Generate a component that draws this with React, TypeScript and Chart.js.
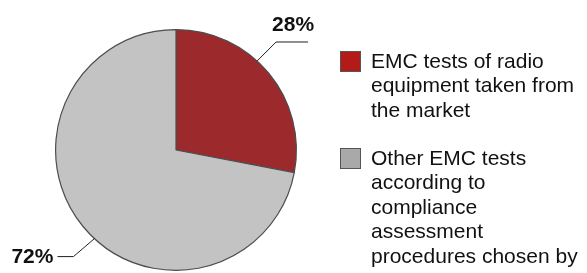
import React, { useEffect, useRef } from "react";
import { Chart, registerables } from "chart.js";

Chart.register(...registerables);

const categories = [
  "EMC tests of radio equipment taken from the market",
  "Other EMC tests according to compliance assessment procedures chosen by",
];
const legendLines = [
  ["EMC tests of radio", "equipment taken from", "the market"],
  ["Other EMC tests", "according to", "compliance", "assessment", "procedures chosen by"],
];
const values = [28, 72];
const sliceColors = ["#9c2a2c", "#c3c3c3"];
const legendColors = ["#b31b18", "#a9a9a9"];

const labelPlugin = {
  id: "leaderLabels",
  afterDatasetsDraw(chart: any) {
    const ctx = chart.ctx;
    const meta = chart.getDatasetMeta(0);
    const total = values.reduce((a, b) => a + b, 0);
    const fracs = [0.42, 0.47];
    meta.data.forEach((arc: any, i: number) => {
      const { x, y, startAngle, endAngle, outerRadius } = arc.getProps(
        ["x", "y", "startAngle", "endAngle", "outerRadius"],
        true
      );
      const a = startAngle + (endAngle - startAngle) * fracs[i];
      const px = x + Math.cos(a) * outerRadius;
      const py = y + Math.sin(a) * outerRadius;
      const right = Math.cos(a) >= 0;
      const ex = px + (right ? 19 : -21);
      const ey = py + (Math.sin(a) < 0 ? -19 : 18);
      const hx = ex + (right ? 32 : -16);
      ctx.save();
      ctx.strokeStyle = "#222";
      ctx.lineWidth = 1;
      ctx.beginPath();
      ctx.moveTo(px, py);
      ctx.lineTo(ex, ey);
      ctx.lineTo(hx, ey);
      ctx.stroke();
      const txt = Math.round((values[i] / total) * 100) + "%";
      ctx.fillStyle = "#111";
      ctx.font = "bold 21px 'Liberation Sans', Arial, sans-serif";
      if (right) {
        ctx.textAlign = "center";
        ctx.textBaseline = "alphabetic";
        ctx.fillText(txt, (ex + hx) / 2 + 1, ey - 11);
      } else {
        ctx.textAlign = "right";
        ctx.textBaseline = "middle";
        ctx.fillText(txt, hx - 4, ey + 1);
      }
      ctx.restore();
    });
  },
};

export default function App() {
  const ref = useRef<HTMLCanvasElement | null>(null);
  useEffect(() => {
    document.body.style.margin = "0";
    const chart = new Chart(ref.current as HTMLCanvasElement, {
      type: "pie",
      data: {
        labels: categories,
        datasets: [
          {
            data: values,
            backgroundColor: sliceColors,
            borderColor: "#4d4d4d",
            borderWidth: 1.2,
          },
        ],
      },
      options: {
        animation: false,
        responsive: false,
        layout: { padding: { left: 55, right: 290, top: 29, bottom: 2 } },
        plugins: { legend: { display: false }, tooltip: { enabled: false } },
      },
      plugins: [labelPlugin],
    });
    return () => chart.destroy();
  }, []);

  const tops = [49, 146];
  return (
    <div style={{ position: "relative", width: 587, height: 273, overflow: "hidden", background: "#fff" }}>
      <canvas ref={ref} width={587} height={273} style={{ position: "absolute", left: 0, top: 0 }} />
      {legendLines.map((lines, i) => (
        <div key={i} style={{ position: "absolute", left: 340, top: tops[i] }}>
          <div
            style={{
              position: "absolute",
              left: 0,
              top: 2,
              width: 19,
              height: 19,
              background: legendColors[i],
              border: "1px solid #555",
            }}
          />
          <div
            style={{
              position: "absolute",
              left: 31,
              top: 0,
              whiteSpace: "nowrap",
              fontFamily: "'Liberation Sans', Arial, sans-serif",
              fontSize: 21,
              lineHeight: "24.4px",
              color: "#111",
            }}
          >
            {lines.map((l, j) => (
              <div key={j}>{l}</div>
            ))}
          </div>
        </div>
      ))}
    </div>
  );
}
